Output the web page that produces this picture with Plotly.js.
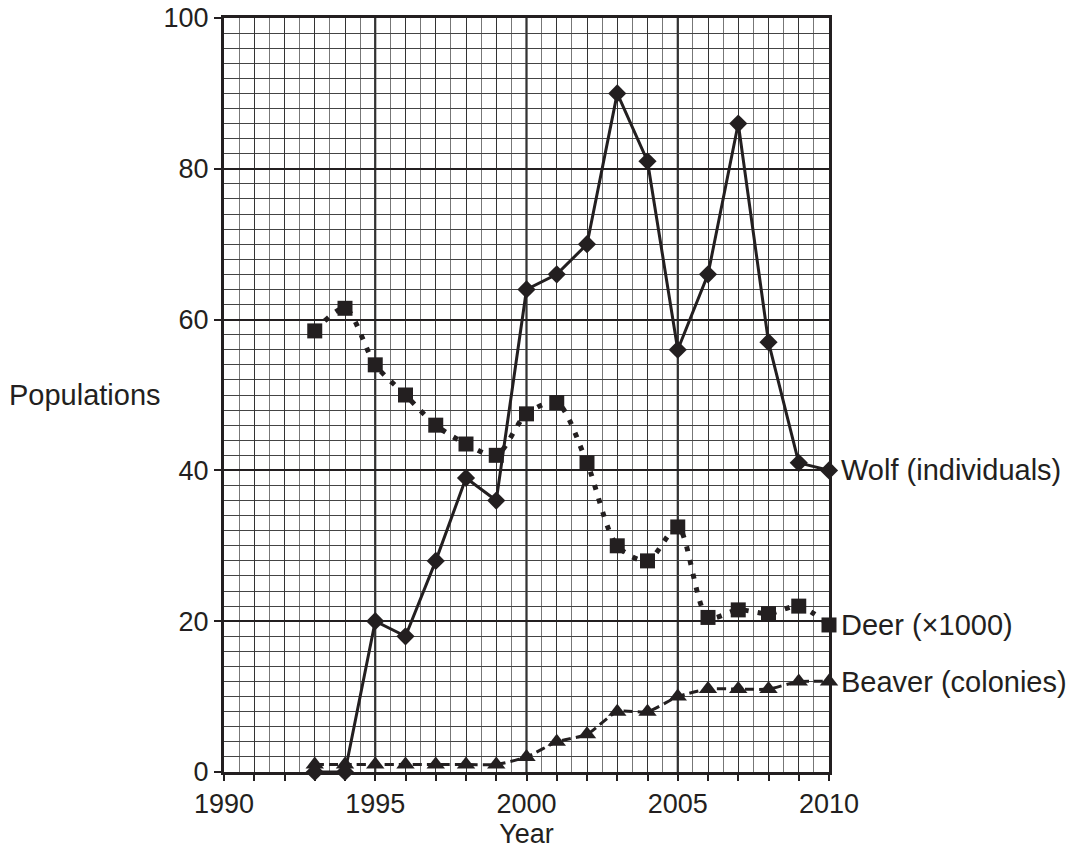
<!DOCTYPE html>
<html><head><meta charset="utf-8">
<script src="https://cdn.plot.ly/plotly-3.0.1.min.js"></script>
<style>html,body{margin:0;padding:0;background:#fff}</style>
</head><body>
<div id="chart" style="width:1076px;height:854px"></div>
<script>
const years = [1993,1994,1995,1996,1997,1998,1999,2000,2001,2002,2003,2004,2005,2006,2007,2008,2009,2010];
const wolf = [0,0,20,18,28,39,36,64,66,70,90,81,56,66,86,57,41,40];
const deer = [58.5,61.5,54,50,46,43.5,42,47.5,49,41,30,28,32.5,20.5,21.5,21,22,19.5];
const beaver = [1,1,1,1,1,1,1,2,4,5,8,8,10,11,11,11,12,12];
const seriesLabels = ['Wolf (individuals)','Deer (×1000)','Beaver (colonies)'];
const xTickVals = [1990,1991,1992,1993,1994,1995,1996,1997,1998,1999,2000,2001,2002,2003,2004,2005,2006,2007,2008,2009,2010];
const xTickText = xTickVals.map(v => v % 5 === 0 ? String(v) : '');
const majorYears = [1995,2000,2005];

const font = '"Liberation Sans", Arial, sans-serif';
const ink = '#231f20';
const traces = [
  {x: years, y: beaver, mode:'lines+markers', line:{color:ink, width:3, dash:'9px,5px', shape:'spline', smoothing:0.6},
   marker:{symbol:'triangle-up', size:16, color:ink}, cliponaxis:false},
  {x: years, y: deer, mode:'lines+markers', line:{color:ink, width:5, dash:'5px,9px', shape:'spline', smoothing:0.8},
   marker:{symbol:'square', size:15, color:ink}, cliponaxis:false},
  {x: years, y: wolf, mode:'lines+markers', line:{color:ink, width:3},
   marker:{symbol:'diamond', size:14, color:ink}, cliponaxis:false}
];
const shapes = majorYears.map(v => ({type:'line', xref:'x', yref:'paper', x0:v, x1:v, y0:0, y1:1, layer:'between', line:{color:'#000', width:2}}));
const lastVals = [wolf[wolf.length-1], deer[deer.length-1], beaver[beaver.length-1]];
const annotations = seriesLabels.map((t,i) => ({x: years[years.length-1], y: lastVals[i], xref:'x', yref:'y', text:t, showarrow:false,
  xanchor:'left', yanchor:'middle', xshift:10, font:{family:font, size:29, color:ink}}));
annotations.push({x:-0.359, xref:'paper', y:50, yref:'y', text:'Populations', showarrow:false, xanchor:'left', yanchor:'middle',
  font:{family:font, size:29, color:ink}});

const layout = {
  width:1076, height:854,
  margin:{l:224, r:247, t:18, b:82},
  paper_bgcolor:'#fff', plot_bgcolor:'#fff',
  showlegend:false,
  font:{family:font, color:ink},
  xaxis:{range:[1990,2010], tickvals:xTickVals, ticktext:xTickText, ticks:'outside', ticklen:6, tickwidth:2, tickcolor:ink,
    showgrid:true, gridcolor:'#333', gridwidth:1, zeroline:false,
    minor:{dtick:0.5, tick0:1990, showgrid:true, gridcolor:'#777', gridwidth:1},
    showline:true, linecolor:ink, linewidth:3, mirror:true,
    tickfont:{family:font, size:27, color:ink},
    title:{text:'Year', font:{family:font, size:27, color:ink}, standoff:4}},
  yaxis:{range:[0,100], dtick:20, tick0:0, ticks:'outside', ticklen:7, tickwidth:2, tickcolor:ink,
    showgrid:true, gridcolor:ink, gridwidth:2, zeroline:false,
    minor:{dtick:2, tick0:0, showgrid:true, gridcolor:'#444', gridwidth:1},
    showline:true, linecolor:ink, linewidth:3, mirror:true,
    tickfont:{family:font, size:27, color:ink}},
  shapes: shapes,
  annotations: annotations
};
Plotly.newPlot('chart', traces, layout, {staticPlot:true});
</script>
</body></html>
